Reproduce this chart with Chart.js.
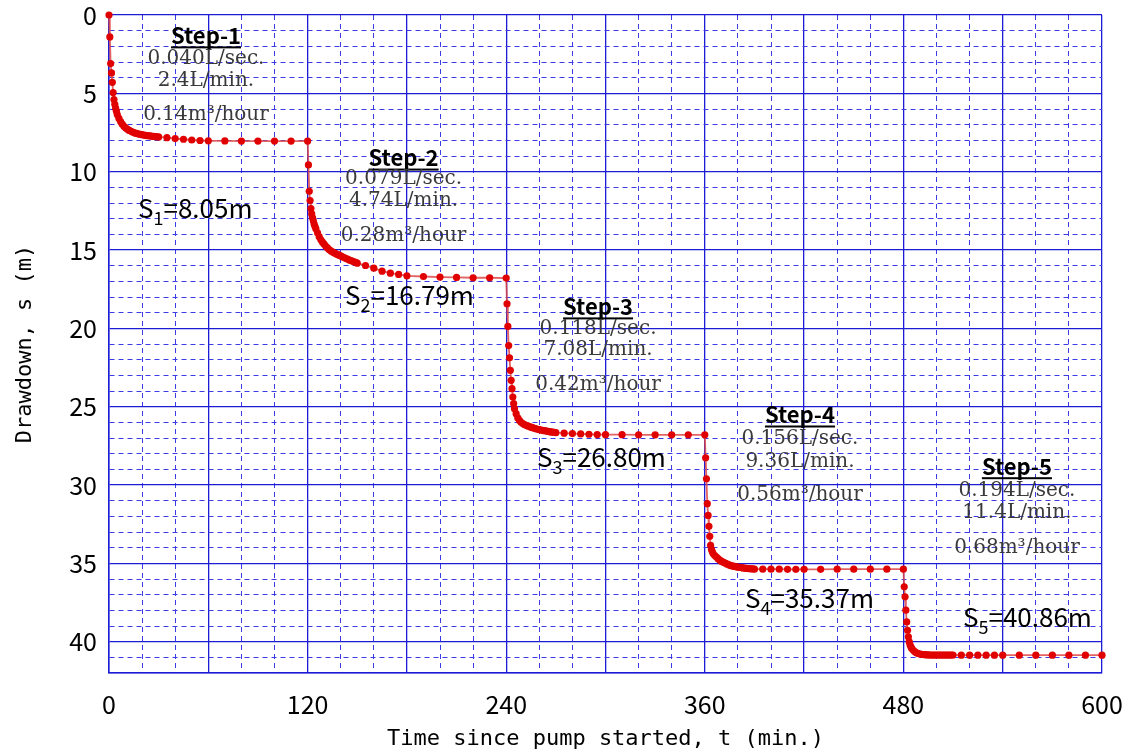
<!DOCTYPE html>
<html>
<head>
<meta charset="utf-8">
<script src="https://cdn.jsdelivr.net/npm/chart.js@4.4.1/dist/chart.umd.min.js"></script>
<style>
  body { margin: 0; background: #fff; }
  canvas { display: block; }
</style>
</head>
<body>
<canvas id="drawdownChart" width="1128" height="752"></canvas>
<script>
// minutes after each step began, when a reading was taken
const minutesInStep = [0.5, 1, 1.5, 2, 2.5, 3, 3.5, 4, 4.5, 5, 6, 7, 8, 9, 10, 11, 12, 13, 14, 15,
  16, 17, 18, 19, 20, 21, 22, 23, 24, 25, 26, 27, 28, 29, 30, 35, 40, 45, 50, 55, 60,
  70, 80, 90, 100, 110, 120];
const stepStarts = [0, 120, 240, 360, 480];

// drawdown (m)
const step1 = [1.4, 3.1, 3.7, 4.3, 4.95, 5.4, 5.7, 5.95, 6.15, 6.35, 6.6, 6.8, 6.97, 7.1, 7.2, 7.28,
  7.35, 7.41, 7.46, 7.5, 7.54, 7.57, 7.6, 7.62, 7.64, 7.66, 7.68, 7.7, 7.71, 7.72, 7.74, 7.75, 7.76,
  7.77, 7.78, 7.83, 7.89, 7.93, 7.98, 8.01, 8.03, 8.04, 8.05, 8.05, 8.05, 8.05, 8.05];
const step2 = [9.57, 11.25, 11.84, 12.35, 12.7, 12.95, 13.15, 13.35, 13.5, 13.65, 13.9, 14.15, 14.35,
  14.5, 14.63, 14.76, 14.87, 14.97, 15.05, 15.12, 15.18, 15.23, 15.28, 15.33, 15.38, 15.43, 15.48,
  15.53, 15.58, 15.63, 15.67, 15.71, 15.75, 15.79, 15.84, 15.99, 16.16, 16.35, 16.48, 16.56, 16.65,
  16.69, 16.73, 16.75, 16.77, 16.77, 16.79];
const step3 = [18.43, 19.88, 21.1, 21.88, 22.68, 23.32, 23.85, 24.39, 24.8, 25.13, 25.45, 25.72, 25.88,
  26.0, 26.08, 26.14, 26.19, 26.23, 26.27, 26.31, 26.34, 26.38, 26.41, 26.44, 26.47, 26.49, 26.51,
  26.53, 26.55, 26.57, 26.59, 26.61, 26.63, 26.64, 26.66, 26.69, 26.72, 26.74, 26.76, 26.78, 26.79,
  26.79, 26.8, 26.8, 26.8, 26.8, 26.8];
const step4 = [28.26, 29.6, 31.19, 31.94, 32.64, 33.27, 33.85, 34.1, 34.25, 34.38, 34.5, 34.6, 34.7,
  34.8, 34.86, 34.92, 34.97, 35.02, 35.07, 35.12, 35.15, 35.18, 35.2, 35.22, 35.24, 35.26, 35.27,
  35.29, 35.3, 35.32, 35.33, 35.34, 35.35, 35.36, 35.37, 35.37, 35.37, 35.37, 35.38, 35.38, 35.38,
  35.38, 35.37, 35.37, 35.37, 35.37, 35.37];
const step5 = [36.5, 37.14, 37.99, 38.74, 39.27, 39.69, 40.0, 40.2, 40.33, 40.43, 40.55, 40.65, 40.72,
  40.76, 40.79, 40.81, 40.82, 40.83, 40.84, 40.84, 40.85, 40.85, 40.85, 40.85, 40.85, 40.85, 40.85,
  40.85, 40.85, 40.85, 40.85, 40.85, 40.85, 40.85, 40.85, 40.86, 40.86, 40.86, 40.86, 40.86, 40.86,
  40.86, 40.86, 40.86, 40.86, 40.86, 40.86];
const steps = [step1, step2, step3, step4, step5];

const stepNames = ["Step-1", "Step-2", "Step-3", "Step-4", "Step-5"];
const rateSec = ["0.040L/sec.", "0.079L/sec.", "0.118L/sec.", "0.156L/sec.", "0.194L/sec."];
const rateMin = ["2.4L/min.", "4.74L/min.", "7.08L/min.", "9.36L/min.", "11.4L/min."];
const rateHour = ["0.14m³/hour", "0.28m³/hour", "0.42m³/hour", "0.56m³/hour", "0.68m³/hour"];
const finalDrawdown = ["8.05m", "16.79m", "26.80m", "35.37m", "40.86m"];

// build points
const points = [{ x: 0, y: 0 }];
steps.forEach((vals, i) => {
  vals.forEach((s, j) => points.push({ x: stepStarts[i] + minutesInStep[j], y: s }));
});

// where the text blocks sit, in axis units (t, s)
const rateBoxes = [
  { t: 58.6, s: [1.3, 2.78, 4.18, 6.4] },
  { t: 178, s: [9.1, 10.43, 11.84, 14.1] },
  { t: 295.5, s: [18.6, 20.0, 21.4, 23.6] },
  { t: 417.5, s: [25.5, 27.03, 28.5, 30.6] },
  { t: 548.6, s: [28.8, 30.35, 31.8, 33.98] },
];
const finalLabels = [
  { t: 17.5, s: 12.35 },
  { t: 142.6, s: 17.9 },
  { t: 258.6, s: 28.2 },
  { t: 384.3, s: 37.2 },
  { t: 516, s: 38.45 },
];

const GOTHIC = "'Noto Sans CJK JP', 'Noto Sans', sans-serif";
const MONO = "'DejaVu Sans Mono', monospace";
const MAJOR = "#1c1cd6";
const MINOR = "#3c3ce4";

const textPlugin = {
  id: "stepText",
  afterDatasetsDraw(chart) {
    const { ctx, scales } = chart;
    const xs = scales.x, ys = scales.y;
    ctx.save();
    rateBoxes.forEach((b, i) => {
      const cx = xs.getPixelForValue(b.t);
      ctx.textAlign = "center";
      ctx.textBaseline = "middle";
      ctx.fillStyle = "#000";
      ctx.font = "bold 22px " + GOTHIC;
      const hy = ys.getPixelForValue(b.s[0]);
      ctx.fillText(stepNames[i], cx, hy);
      const w = ctx.measureText(stepNames[i]).width;
      ctx.fillRect(cx - w / 2, hy + 11, w, 2);
      ctx.fillStyle = "#3a3a3a";
      ctx.font = "20px 'DejaVu Serif', serif";
      ctx.fillText(rateSec[i], cx, ys.getPixelForValue(b.s[1]));
      ctx.fillText(rateMin[i], cx, ys.getPixelForValue(b.s[2]));
      ctx.fillText(rateHour[i], cx, ys.getPixelForValue(b.s[3]));
    });
    finalLabels.forEach((p, i) => {
      let x = xs.getPixelForValue(p.t);
      const y = ys.getPixelForValue(p.s);
      ctx.textAlign = "left";
      ctx.textBaseline = "middle";
      ctx.fillStyle = "#000";
      ctx.font = "26px " + GOTHIC;
      ctx.fillText("S", x, y);
      x += ctx.measureText("S").width;
      ctx.font = "18px " + GOTHIC;
      ctx.fillText(String(i + 1), x, y + 10);
      x += ctx.measureText(String(i + 1)).width;
      ctx.font = "26px " + GOTHIC;
      ctx.fillText("=" + finalDrawdown[i], x, y);
    });
    ctx.restore();
  },
};

const isMajorX = (v) => v % 60 === 0;
const isMajorY = (v) => v % 5 === 0 || v === 42;

new Chart(document.getElementById("drawdownChart").getContext("2d"), {
  type: "line",
  data: {
    datasets: [
      {
        data: points,
        borderColor: "rgba(225, 70, 70, 0.85)",
        borderWidth: 1.8,
        pointBackgroundColor: "#e00000",
        pointBorderWidth: 0,
        pointRadius: 3.6,
        tension: 0,
        clip: false,
      },
    ],
  },
  options: {
    responsive: false,
    animation: false,
    layout: { padding: { top: 15, right: 26, left: 0, bottom: 0 } },
    plugins: { legend: { display: false }, tooltip: { enabled: false } },
    scales: {
      x: {
        type: "linear",
        min: 0,
        max: 600,
        afterFit: (s) => { s.height = 79; s.paddingLeft = 0; s.paddingRight = 0; },
        ticks: {
          stepSize: 20,
          autoSkip: false,
          maxRotation: 0,
          padding: 16,
          color: "#000",
          font: { family: GOTHIC, size: 25 },
          callback: (v) => (v % 120 === 0 ? v : ""),
        },
        grid: {
          drawTicks: false,
          color: (c) => (c.tick && isMajorX(c.tick.value) ? MAJOR : MINOR),
          lineWidth: (c) => (c.tick && isMajorX(c.tick.value) ? 1.3 : 1),
        },
        border: {
          color: MAJOR,
          width: 1.5,
          dash: (c) => (c.tick && !isMajorX(c.tick.value) ? [5, 4] : []),
        },
        title: {
          display: true,
          text: "Time since pump started, t (min.)",
          color: "#000",
          font: { family: MONO, size: 22 },
          padding: { top: 2, bottom: 0 },
        },
      },
      y: {
        reverse: true,
        min: 0,
        max: 42,
        afterFit: (s) => { s.width = 109; s.paddingTop = 0; s.paddingBottom = 0; },
        ticks: {
          stepSize: 1,
          autoSkip: false,
          padding: 12,
          color: "#000",
          font: { family: GOTHIC, size: 25 },
          callback: (v) => (v % 5 === 0 ? v : ""),
        },
        grid: {
          drawTicks: false,
          color: (c) => (c.tick && isMajorY(c.tick.value) ? MAJOR : MINOR),
          lineWidth: (c) => (c.tick && isMajorY(c.tick.value) ? 1.3 : 1),
        },
        border: {
          color: MAJOR,
          width: 1.5,
          dash: (c) => (c.tick && !isMajorY(c.tick.value) ? [5, 4] : []),
        },
        title: {
          display: true,
          text: "Drawdown, s (m)",
          color: "#000",
          font: { family: MONO, size: 22 },
          padding: { top: 12, bottom: 0 },
        },
      },
    },
  },
  plugins: [textPlugin],
});
</script>
</body>
</html>
